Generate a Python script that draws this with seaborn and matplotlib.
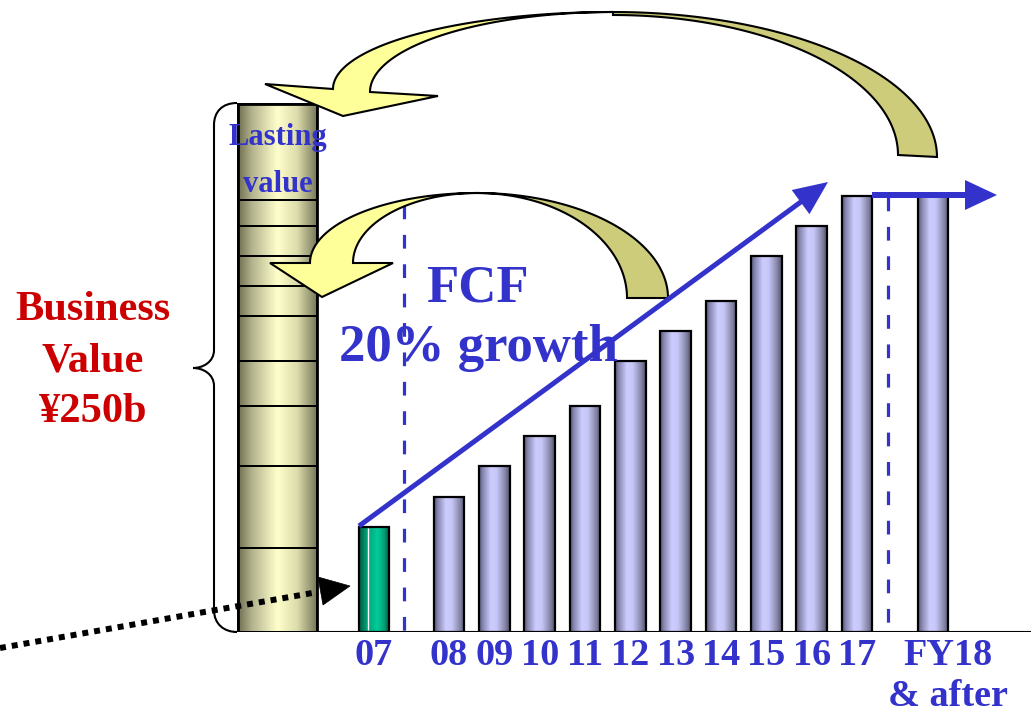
import numpy as np
import pandas as pd
import matplotlib
matplotlib.use("Agg")
import matplotlib.pyplot as plt
import matplotlib.patches as mpatches
from matplotlib.path import Path
from matplotlib.colors import LinearSegmentedColormap
from matplotlib.transforms import ScaledTranslation
import seaborn as sns

# Free cash flow by fiscal year (relative units)
years = ["07", "08", "09", "10", "11", "12", "13", "14", "15", "16", "17", "FY18\n& after"]
fcf = [3.5, 4.5, 5.5, 6.5, 7.5, 9.0, 10.0, 11.0, 12.5, 13.5, 14.5, 14.5]
# Present-value layers stacked into the business value column, bottom to top
pv_layers = [2.8, 2.7, 2.0, 1.5, 1.5, 1.0, 1.0, 1.0, 0.85, 3.2]

BLUE = "#3333cc"
RED = "#cc0000"

# bar slots: a gap after the actual year and before the steady-state year
x_pos = [0.0] + [1.655 + i for i in range(10)] + [12.33]

sns.set_style("white")
plt.rcParams["font.family"] = ["Liberation Serif", "DejaVu Serif"]

W, H = 1031, 713
fig = plt.figure(figsize=(W / 100, H / 100), dpi=100)
fig.patch.set_facecolor("white")

# main axes: its bottom edge is the baseline of the bars
PX_X, PX_Y = 45.33, 30.1
BASE = 632
ax = fig.add_axes([0, (H - BASE) / H, 1, BASE / H])

df = pd.DataFrame({"x": x_pos, "fcf": fcf})
sns.barplot(data=df, x="x", y="fcf", native_scale=True, width=0.67,
            color="#ccccff", edgecolor="black", linewidth=1.6,
            errorbar=None, ax=ax, zorder=3)
bars = list(ax.patches)

lav = LinearSegmentedColormap.from_list("lav", [
    (0.0, "#55557a"), (0.12, "#8585ad"), (0.38, "#ccccff"),
    (0.58, "#c6c6f6"), (0.85, "#8484a6"), (1.0, "#50506a")])
teal = LinearSegmentedColormap.from_list("teal", [
    (0.0, "#00573d"), (0.25, "#00a078"), (0.6, "#00cc99"),
    (0.82, "#009e76"), (1.0, "#004a34")])
sand = LinearSegmentedColormap.from_list("sand", [
    (0.0, "#6e6e52"), (0.18, "#b4b48e"), (0.5, "#ffffcc"),
    (0.75, "#dcdcac"), (1.0, "#78785a")])

grad = np.linspace(0, 1, 256).reshape(1, -1)


def shade(patch, cmap, z):
    x0, y0 = patch.get_x(), patch.get_y()
    w, h = patch.get_width(), patch.get_height()
    im = ax.imshow(grad, extent=[x0, x0 + w, y0, y0 + h], aspect="auto",
                   cmap=cmap, interpolation="bicubic", zorder=z)
    im.set_clip_path(patch)


for i, b in enumerate(bars):
    b.set_facecolor("none")
    shade(b, teal if i == 0 else lav, 2.9)

# highlight streak on the actual-year bar
b0 = bars[0]
ax.vlines(b0.get_x() + 0.3 * b0.get_width(), 0.05, b0.get_height() - 0.05,
          color="white", lw=1.0, zorder=3.1)

# business value column built from stacked present-value layers
col_x, col_w = (277.5 - 374) / PX_X, 79 / PX_X
bottoms = np.concatenate([[0.0], np.cumsum(pv_layers)[:-1]])
ax.bar([col_x] * len(pv_layers), pv_layers, bottom=bottoms, width=col_w,
       facecolor="none", edgecolor="black", linewidth=1.4, zorder=3)
outline = mpatches.Rectangle((col_x - col_w / 2, 0), col_w, sum(pv_layers),
                             fill=False, ec="black", lw=2.0, zorder=3.2)
ax.add_patch(outline)
shade(outline, sand, 2.9)

ax.hlines(0, (233 - 374) / PX_X, 15, color="black", lw=1.5, zorder=2)

ax.set_xlim(-374 / PX_X, (W - 374) / PX_X)
ax.set_ylim(0, BASE / PX_Y)
ax.set_facecolor("none")
for s in ax.spines.values():
    s.set_visible(False)
ax.set_yticks([])
ax.set_xlabel("")
ax.set_ylabel("")
ax.set_xticks(x_pos)
ax.set_xticklabels(years, fontsize=27.5, fontweight="bold", color=BLUE)
ax.tick_params(axis="x", length=0, pad=4.5)
last = ax.get_xticklabels()[-1]
last.set_linespacing(1.22)
last.set_transform(last.get_transform() + ScaledTranslation(0.15, 0, fig.dpi_scale_trans))

# annotation layer in pixel units
ov = fig.add_axes([0, 0, 1, 1], zorder=5)
ov.set_xlim(0, W)
ov.set_ylim(H, 0)
ov.axis("off")

dash = (0, (4.3, 4.9))
ov.plot([404, 404], [205, 634], color=BLUE, lw=2.3, ls=dash, zorder=1)
ov.plot([888, 888], [197, 632], color=BLUE, lw=2.3, ls=dash, zorder=1)


def arc(cx, cy, rx, ry, t0, t1, n=80):
    t = np.radians(np.linspace(t0, t1, n))
    return np.column_stack([cx + rx * np.cos(t), cy - ry * np.sin(t)])


LIGHT, DARK = "#ffff99", "#cccc7a"
shapes = [
    (np.vstack([arc(613, 157, 324, 145, 90, 0), arc(613, 155, 285, 140, 0, 90)]), DARK),
    (np.vstack([arc(613, 89, 280, 77, 180, 90), arc(613, 92, 243, 80, 90, 180),
                [[438, 96], [343, 116], [265, 84]]]), LIGHT),
    (np.vstack([arc(477, 298, 191, 105, 90, 0), arc(477, 298, 150, 105, 0, 90)]), DARK),
    (np.vstack([arc(477, 263, 167, 70, 180, 90), arc(477, 263, 124, 70, 90, 180),
                [[393, 263], [322, 297], [270, 263]]]), LIGHT),
]
for pts, fc in shapes:
    ov.add_patch(mpatches.Polygon(pts, closed=True, fc=fc, ec="black",
                                  lw=1.5, joinstyle="miter", zorder=2))

# growth trend and steady-state arrows
ov.add_patch(mpatches.FancyArrow(359, 526, 828 - 359, 182 - 526, width=5,
                                 head_width=30, head_length=34,
                                 length_includes_head=True, color=BLUE, lw=0, zorder=3))
ov.add_patch(mpatches.FancyArrow(872, 195, 997 - 872, 0, width=6,
                                 head_width=30, head_length=32,
                                 length_includes_head=True, color=BLUE, lw=0, zorder=3))

# dotted pointer to the actual year
ov.plot([0, 318], [648, 592], color="black", lw=4.3, ls=(0, (1, 1)),
        dash_capstyle="butt", zorder=3)
ov.add_patch(mpatches.Polygon([[318, 577], [350, 586], [323, 605]], closed=True,
                              fc="black", ec="black", lw=0.5, zorder=3))

# curly brace spanning the column
verts = [(237, 103), (222, 103), (214, 112), (214, 125),
         (214, 350),
         (214, 362), (203, 368), (193, 368),
         (203, 368), (214, 374), (214, 386),
         (214, 610),
         (214, 624), (224, 632), (237, 632)]
codes = [Path.MOVETO, Path.CURVE4, Path.CURVE4, Path.CURVE4,
         Path.LINETO,
         Path.CURVE4, Path.CURVE4, Path.CURVE4,
         Path.CURVE4, Path.CURVE4, Path.CURVE4,
         Path.LINETO,
         Path.CURVE4, Path.CURVE4, Path.CURVE4]
ov.add_patch(mpatches.PathPatch(Path(verts, codes), fill=False, ec="black", lw=1.5, zorder=3))

bold = dict(ha="center", va="baseline", fontweight="bold", zorder=4)
for txt, y in [("Business", 320), ("Value", 371), ("¥250b", 422)]:
    ov.text(93, y, txt, fontsize=30.5, color=RED, **bold)
ov.text(278, 145, "Lasting", fontsize=22, color=BLUE, **bold)
ov.text(278, 192, "value", fontsize=22, color=BLUE, **bold)
ov.text(477, 301, "FCF", fontsize=38, color=BLUE, **bold)
ov.text(478, 361, "20% growth", fontsize=38, color=BLUE, **bold)

fig.savefig("out.png", dpi=100, facecolor="white")
